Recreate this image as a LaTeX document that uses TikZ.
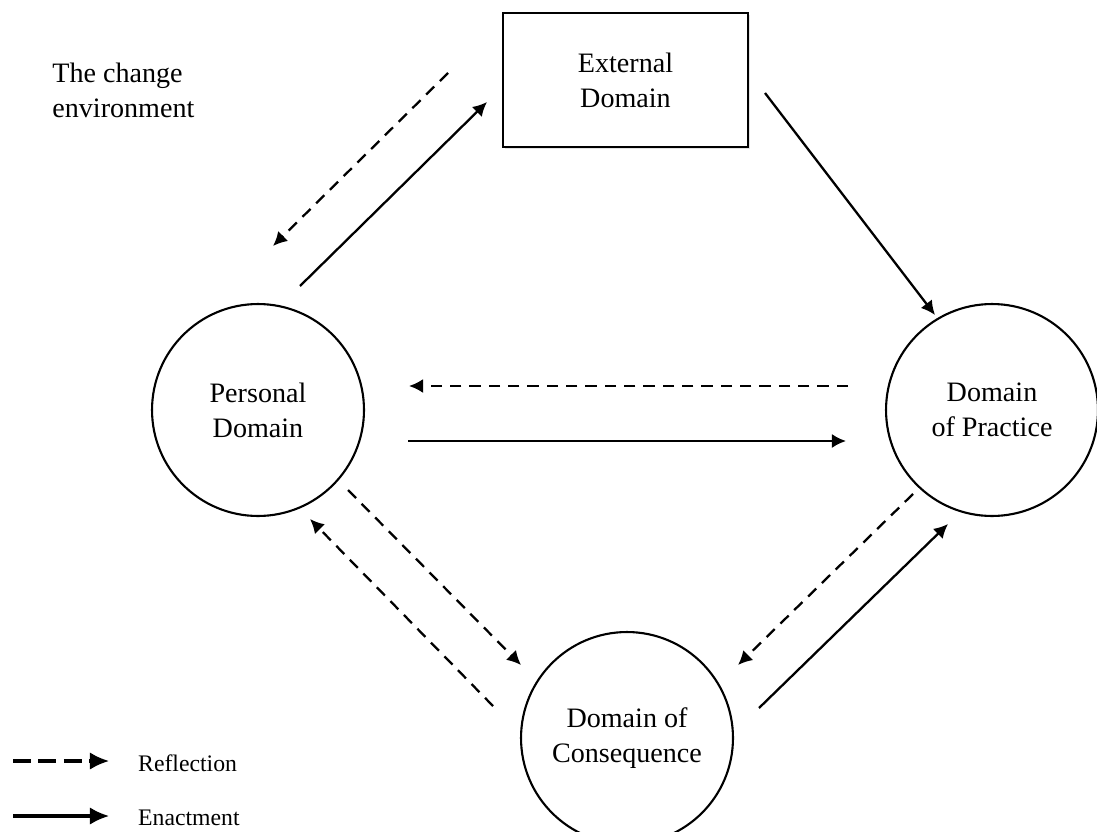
\documentclass[tikz,border=0pt]{standalone}
\usepackage{fontspec}
\setmainfont{Liberation Serif}
\usetikzlibrary{arrows.meta,shadows}

\begin{document}
\begin{tikzpicture}[x=0.02cm, y=-0.02cm,
    >={Latex[length=8pt,width=8pt]},
    font=\fontsize{16}{20}\selectfont,
    domainnode/.style={draw, circle, line width=1.2pt, minimum size=4.24cm, align=center},
    enact/.style={->, line width=1.3pt},
    reflect/.style={->, line width=1.3pt, dash pattern=on 6.5pt off 4.5pt},
    keyline/.style={line width=1.8pt, shorten >=13pt, >={Latex[length=11pt,width=10pt]}}
]
    \useasboundingbox (0,0) rectangle (1097,831);

    % domains
    \node [draw,
        line width=1.3pt,
        minimum width=4.9cm,
        minimum height=2.68cm,
        fill=white,
        drop shadow={shadow xshift=1.2pt, shadow yshift=-1.2pt, fill=gray!45},
        align=center
    ]  (External) at (625.5,80) {External\\Domain};
    \node [domainnode] (Personal) at (258,410) {Personal\\Domain};
    \node [domainnode] (Practice) at (992,410) {Domain\\of Practice};
    \node [domainnode] (Consequence) at (627,738) {Domain of\\Consequence};

    \node [anchor=north west, align=left, inner sep=0pt] (Change) at (52,63)
    {The change\\environment};

    % arrow ends
    \coordinate (ExtPersA) at (448,73);
    \coordinate (ExtPersB) at (273,246);
    \coordinate (PersExtA) at (300,286);
    \coordinate (PersExtB) at (487,102);
    \coordinate (ExtPracA) at (765,93);
    \coordinate (ExtPracB) at (935,315);
    \coordinate (PracPersA) at (848,386);
    \coordinate (PracPersB) at (409,386);
    \coordinate (PersPracA) at (408,441);
    \coordinate (PersPracB) at (846,441);
    \coordinate (PersConsA) at (348,490);
    \coordinate (PersConsB) at (521,665);
    \coordinate (ConsPersA) at (493,706);
    \coordinate (ConsPersB) at (310,519);
    \coordinate (PracConsA) at (913,494);
    \coordinate (PracConsB) at (738,665);
    \coordinate (ConsPracA) at (759,708);
    \coordinate (ConsPracB) at (948,524);

    \draw [reflect] (ExtPersA) -- (ExtPersB);
    \draw [enact] (PersExtA) -- (PersExtB);
    \draw [enact] (ExtPracA) -- (ExtPracB);
    \draw [reflect] (PracPersA) -- (PracPersB);
    \draw [enact] (PersPracA) -- (PersPracB);
    \draw [reflect] (PersConsA) -- (PersConsB);
    \draw [reflect] (ConsPersA) -- (ConsPersB);
    \draw [reflect] (PracConsA) -- (PracConsB);
    \draw [enact] (ConsPracA) -- (ConsPracB);

    % key
    \node [anchor=west, font=\fontsize{13.5}{16}\selectfont] (KeyReflect) at (132,763) {Reflection};
    \node [anchor=west, font=\fontsize{13.5}{16}\selectfont] (KeyEnact) at (132,818) {Enactment};
    \coordinate (KeyReflectEnd) at (13,761);
    \coordinate (KeyEnactEnd) at (13,816);
    \draw [reflect, keyline, dash pattern=on 10pt off 4.5pt] (KeyReflectEnd) -- (KeyReflect.west |- KeyReflectEnd);
    \draw [enact, keyline] (KeyEnactEnd) -- (KeyEnact.west |- KeyEnactEnd);

\end{tikzpicture}
\end{document}
